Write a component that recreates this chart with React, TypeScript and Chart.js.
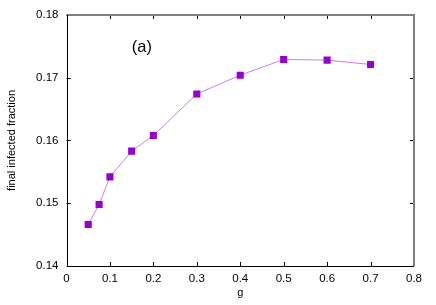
import React, { useEffect, useRef } from "react";
import { Chart, registerables } from "chart.js";

Chart.register(...registerables);

const gValues = [0.05, 0.075, 0.1, 0.15, 0.2, 0.3, 0.4, 0.5, 0.6, 0.7];
const infectedFraction = [0.1466, 0.1498, 0.1542, 0.1583, 0.1608, 0.1674, 0.1704, 0.1729, 0.1728, 0.1721];
const xTicks = [0, 0.1, 0.2, 0.3, 0.4, 0.5, 0.6, 0.7, 0.8];
const yTicks = [0.14, 0.15, 0.16, 0.17, 0.18];
const panelLabel = "(a)";

const framePlugin = {
  id: "frame",
  afterDraw(chart: any) {
    const { ctx, chartArea } = chart;
    const { left, right, top, bottom } = chartArea;
    const xs = chart.scales.x;
    const ys = chart.scales.y;
    ctx.save();
    ctx.strokeStyle = "#000";
    ctx.lineWidth = 1;
    const tl = 4;
    ctx.beginPath();
    xTicks.forEach((v) => {
      const px = Math.round(xs.getPixelForValue(v)) + 0.5;
      ctx.moveTo(px, bottom);
      ctx.lineTo(px, bottom - tl);
      ctx.moveTo(px, top);
      ctx.lineTo(px, top + tl);
    });
    yTicks.forEach((v) => {
      const py = Math.round(ys.getPixelForValue(v)) + 0.5;
      ctx.moveTo(left, py);
      ctx.lineTo(left + tl, py);
      ctx.moveTo(right, py);
      ctx.lineTo(right - tl, py);
    });
    ctx.stroke();
    ctx.strokeStyle = "#808080";
    ctx.lineWidth = 2;
    ctx.beginPath();
    ctx.moveTo(left, top);
    ctx.lineTo(right, top);
    ctx.lineTo(right, bottom);
    ctx.stroke();
    ctx.strokeStyle = "#000";
    ctx.lineWidth = 1;
    ctx.beginPath();
    ctx.moveTo(Math.round(left) + 0.5, top);
    ctx.lineTo(Math.round(left) + 0.5, Math.round(bottom) + 0.5);
    ctx.lineTo(right, Math.round(bottom) + 0.5);
    ctx.stroke();
    ctx.fillStyle = "#000";
    ctx.font = "16.5px 'Liberation Sans', Arial, sans-serif";
    ctx.textAlign = "center";
    ctx.textBaseline = "middle";
    ctx.fillText(panelLabel, xs.getPixelForValue(0.1735), ys.getPixelForValue(0.1748));
    ctx.restore();
  },
};

export default function App() {
  const ref = useRef<HTMLCanvasElement | null>(null);
  useEffect(() => {
    if (!ref.current) return;
    const font = { family: "'Liberation Sans', Arial, sans-serif", size: 11.5 };
    const titleFont = { family: "'Liberation Sans', Arial, sans-serif", size: 11 };
    const chart = new Chart(ref.current, {
      type: "scatter",
      data: {
        datasets: [
          {
            data: gValues.map((g, i) => ({ x: g, y: infectedFraction[i] })),
            showLine: true,
            borderColor: "#c77df0",
            borderWidth: 1,
            backgroundColor: "#9400d3",
            pointBackgroundColor: "#9400d3",
            pointBorderColor: "#9400d3",
            pointStyle: "rect",
            pointRadius: 5,
            pointBorderWidth: 0,
          },
        ],
      },
      options: {
        animation: false,
        responsive: true,
        maintainAspectRatio: false,
        layout: { padding: { top: 12, right: 22, left: 0, bottom: 0 } },
        plugins: { legend: { display: false }, tooltip: { enabled: false } },
        scales: {
          x: {
            type: "linear",
            min: 0,
            max: 0.8,
            grid: { display: false, drawTicks: false, tickLength: 0 },
            border: { display: false },
            afterFit: (s: any) => {
              s.height = 39;
            },
            afterBuildTicks: (s: any) => {
              s.ticks = xTicks.map((v) => ({ value: v }));
            },
            ticks: {
              color: "#000",
              font,
              padding: 6,
              callback: (v: any) => String(Math.round(Number(v) * 10) / 10),
            },
            title: { display: true, text: "g", color: "#000", font: titleFont, padding: { top: 0, bottom: 5 } },
          },
          y: {
            type: "linear",
            min: 0.14,
            max: 0.18,
            grid: { display: false, drawTicks: false, tickLength: 0 },
            border: { display: false },
            afterFit: (s: any) => {
              s.width = 66.5;
            },
            afterBuildTicks: (s: any) => {
              s.ticks = yTicks.map((v) => ({ value: v }));
            },
            ticks: {
              color: "#000",
              font,
              padding: 8,
              callback: (v: any) => (Math.round(Number(v) * 100) / 100).toFixed(2),
            },
            title: {
              display: true,
              text: "final infected fraction",
              color: "#000",
              font: titleFont,
              padding: { top: 5, bottom: 0 },
            },
          },
        },
      },
      plugins: [framePlugin],
    });
    return () => chart.destroy();
  }, []);
  return (
    <div style={{ position: "fixed", left: 0, top: 0, width: 436, height: 305, background: "#fff" }}>
      <canvas ref={ref} />
    </div>
  );
}
